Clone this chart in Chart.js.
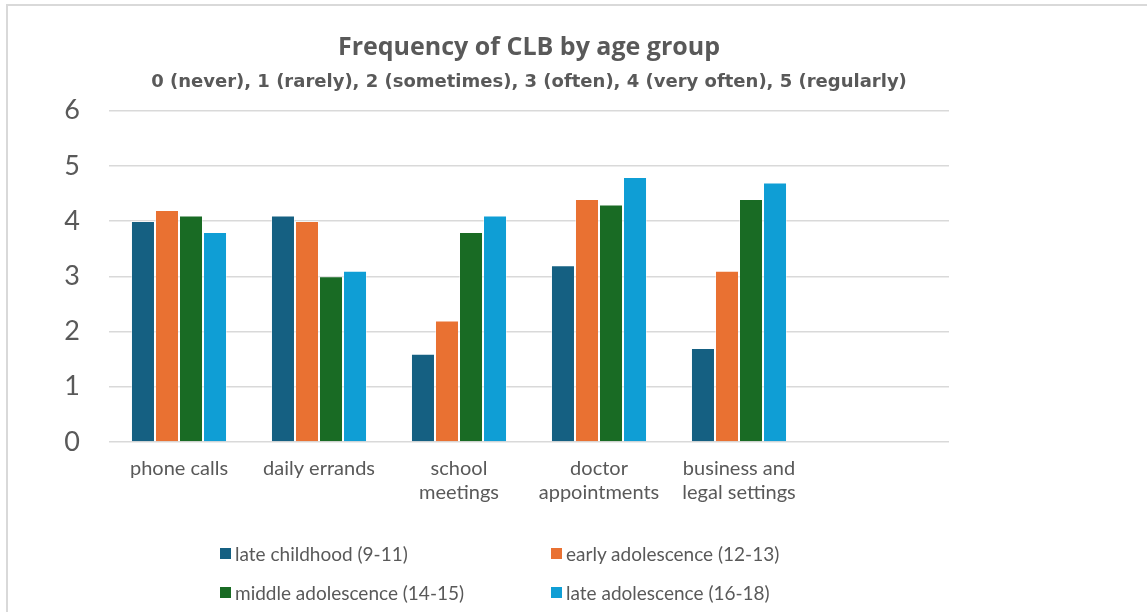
<!DOCTYPE html>
<html>
<head>
<meta charset="utf-8">
<script src="https://cdn.jsdelivr.net/npm/chart.js@4.4.1/dist/chart.umd.min.js"></script>
<style>
  html, body { margin: 0; padding: 0; background: #fff; }
  body { width: 1147px; height: 612px; position: relative; overflow: hidden; font-family: Lato, "Open Sans", sans-serif; }
  #frame { position: absolute; left: 6px; top: 4px; width: 1160px; height: 640px; border-left: 2px solid #d9d9d9; border-top: 2px solid #d9d9d9; box-sizing: border-box; }
  #wrap { position: absolute; left: 0; top: 0; width: 1147px; height: 612px; }
  #legend { position: absolute; left: 0; top: 0; width: 1147px; height: 612px; pointer-events: none; }
  .item { position: absolute; display: flex; align-items: center; color: #595959; font-size: 19px; white-space: nowrap; height: 24px; }
  .box { width: 11px; height: 11px; margin-right: 4px; }
</style>
</head>
<body>
<div id="frame"></div>
<div id="wrap"><canvas id="c" width="1147" height="612"></canvas></div>
<div id="legend"></div>
<script>
// ---- data ----
const categories = ["phone calls", "daily errands", ["school", "meetings"], ["doctor", "appointments"], ["business and", "legal settings"], ""];
const seriesNames = ["late childhood (9-11)", "early adolescence (12-13)", "middle adolescence (14-15)", "late adolescence (16-18)"];
const lateChildhood     = [4.0, 4.1, 1.6, 3.2, 1.7];
const earlyAdolescence  = [4.2, 4.0, 2.2, 4.4, 3.1];
const middleAdolescence = [4.1, 3.0, 3.8, 4.3, 4.4];
const lateAdolescence   = [3.8, 3.1, 4.1, 4.8, 4.7];
const seriesColors = ["#156082", "#E97132", "#196B24", "#0F9ED5"];
const titleText = "Frequency of CLB by age group";
const subtitleText = "0 (never), 1 (rarely), 2 (sometimes), 3 (often), 4 (very often), 5 (regularly)";

const seriesValues = [lateChildhood, earlyAdolescence, middleAdolescence, lateAdolescence];
const textColor = "#595959";
const fam = "Lato, 'Open Sans', sans-serif";
const famBold = "'Open Sans', Lato, sans-serif";
const famSub = "'DejaVu Sans', 'Open Sans', sans-serif";

const chart = new Chart(document.getElementById("c"), {
  type: "bar",
  data: {
    labels: categories,
    datasets: seriesValues.map((vals, i) => ({
      label: seriesNames[i],
      data: vals,
      backgroundColor: seriesColors[i],
      borderColor: "rgba(255,255,255,0.45)",
      borderWidth: 1,
      categoryPercentage: 0.686,
      barPercentage: 1.0
    }))
  },
  options: {
    responsive: false,
    animation: false,
    devicePixelRatio: 1,
    layout: { padding: { left: 63, right: 198, top: 0, bottom: 92 } },
    plugins: {
      legend: { display: false },
      tooltip: { enabled: false },
      title: {
        display: true,
        text: titleText,
        fullSize: false,
        color: textColor,
        font: { family: famBold, size: 25, weight: "bold", lineHeight: 1.2 },
        padding: { top: 33, bottom: 0 }
      },
      subtitle: {
        display: true,
        text: subtitleText,
        fullSize: false,
        color: textColor,
        font: { family: famSub, size: 18, weight: "bold", lineHeight: 1.2 },
        padding: { top: 9, bottom: 17 }
      }
    },
    scales: {
      x: {
        grid: { display: false, drawTicks: false },
        border: { display: false },
        ticks: { color: textColor, font: { family: fam, size: 20, lineHeight: 1.2 }, padding: 15, maxRotation: 0, autoSkip: false }
      },
      y: {
        min: 0, max: 6,
        grid: { color: "#d9d9d9", lineWidth: 1.5, drawTicks: false },
        border: { display: false },
        ticks: { stepSize: 1, color: textColor, font: { family: fam, size: 27 }, padding: 29 },
        afterFit(scale) { scale.width = 46; }
      }
    }
  }
});

// HTML legend built from the chart's datasets
const legendEl = document.getElementById("legend");
const cols = [220, 551];
const rows = [553, 592];
chart.data.datasets.forEach((ds, i) => {
  const it = document.createElement("div");
  it.className = "item";
  it.style.left = cols[i % 2] + "px";
  it.style.top = (rows[Math.floor(i / 2)] - 12) + "px";
  const b = document.createElement("span");
  b.className = "box";
  b.style.background = ds.backgroundColor;
  const t = document.createElement("span");
  t.textContent = ds.label;
  it.appendChild(b); it.appendChild(t);
  legendEl.appendChild(it);
});
</script>
</body>
</html>
